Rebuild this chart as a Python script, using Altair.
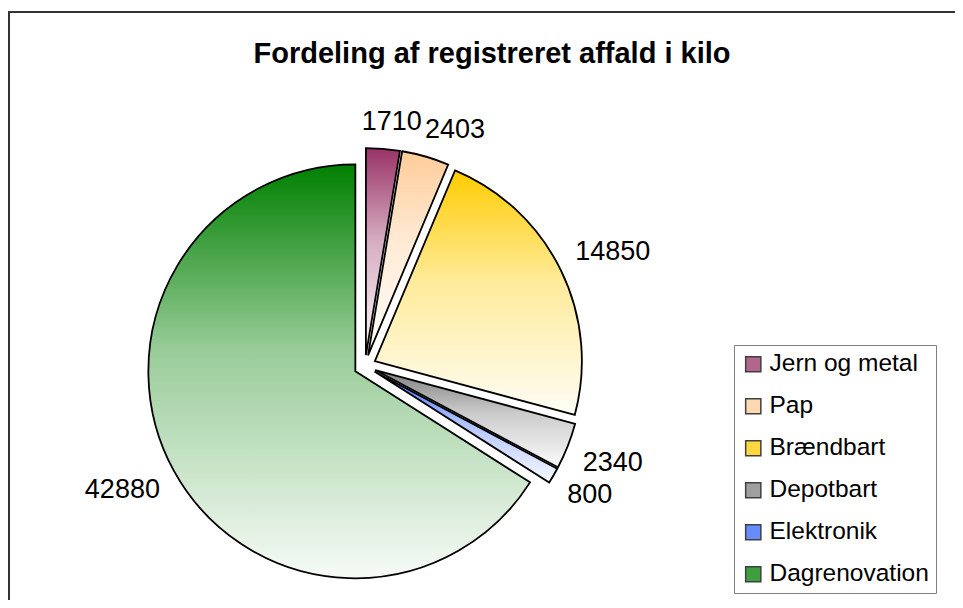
import altair as alt
import pandas as pd

categories = ["Jern og metal", "Pap", "Brændbart", "Depotbart", "Elektronik", "Dagrenovation"]
values = [1710, 2403, 14850, 2340, 800, 42880]
colors = ["#993366", "#FFCC99", "#FFCC00", "#808080", "#3366FF", "#008000"]
title_text = "Fordeling af registreret affald i kilo"

CX, CY, R, EXPLODE = 357, 358, 207, 11
GAP, HALF_CHAR, HALF_H = 16, 7.5, 11
W, H = 947, 592

df = pd.DataFrame({"cat": categories, "val": values, "idx": list(range(len(categories)))})

base = (
    alt.Chart(df)
    .transform_joinaggregate(total="sum(val)")
    .transform_window(cum="sum(val)", sort=[alt.SortField("idx")], frame=[None, 0])
    .transform_calculate(t1="2*PI*datum.cum/datum.total")
    .transform_calculate(t0="2*PI*(datum.cum-datum.val)/datum.total")
    .transform_calculate(mid="(datum.t0+datum.t1)/2")
    .transform_calculate(cx=f"{CX}+{EXPLODE}*sin(datum.mid)")
    .transform_calculate(cy=f"{CY}-{EXPLODE}*cos(datum.mid)")
)

enc = dict(
    theta=alt.Theta("t0:Q", scale=None, stack=None),
    theta2="t1:Q",
    x=alt.X("cx:Q", scale=None),
    y=alt.Y("cy:Q", scale=None),
)

fills = base.mark_arc(outerRadius=R).encode(
    color=alt.Color(
        "cat:N",
        scale=alt.Scale(domain=categories, range=colors),
        legend=alt.Legend(
            title=None,
            orient="none",
            legendX=726,
            legendY=337,
            strokeColor="#808080",
            fillColor="white",
            padding=7,
            labelFont="Liberation Sans",
            labelFontSize=24.5,
            labelColor="black",
            labelLimit=0,
            symbolType="square",
            symbolSize=230,
            symbolStrokeColor="black",
            symbolStrokeWidth=1.5,
            symbolOpacity=0.75,
            rowPadding=17,
            labelOffset=4,
            cornerRadius=0,
        ),
    ),
    **enc,
)

overlay = base.mark_arc(
    outerRadius=R,
    stroke="black",
    strokeWidth=1.8,
    fill=alt.LinearGradient(
        gradient="linear",
        x1=0, y1=0, x2=0, y2=1,
        stops=[
            alt.GradientStop(color="rgba(255,255,255,0)", offset=0),
            alt.GradientStop(color="rgba(255,255,255,0.6)", offset=0.45),
            alt.GradientStop(color="rgba(255,255,255,0.97)", offset=1),
        ],
    ),
).encode(**enc)

labels = (
    base.transform_calculate(lab="toString(datum.val)")
    .transform_calculate(s="sin(datum.mid)", c="cos(datum.mid)")
    .transform_calculate(
        lx=f"datum.cx+({R}+{GAP})*datum.s+(datum.s>0?1:-1)*min(1,3*abs(datum.s))*length(datum.lab)*{HALF_CHAR}"
    )
    .transform_calculate(
        ly=f"datum.cy-({R}+{GAP})*datum.c-(datum.c>0?1:-1)*min(1,3*abs(datum.c))*{HALF_H}"
    )
    .mark_text(fontSize=27, font="Liberation Sans", color="black", align="center", baseline="middle")
    .encode(x=alt.X("lx:Q", scale=None), y=alt.Y("ly:Q", scale=None), text="lab:N")
)

one = pd.DataFrame({"t": [title_text]})
title = alt.Chart(one).mark_text(
    fontSize=29, fontWeight="bold", font="Liberation Sans", color="black",
    align="center", baseline="alphabetic"
).encode(x=alt.value(484), y=alt.value(55), text="t:N")

frame_top = alt.Chart(one).mark_rule(color="#333333", strokeWidth=2).encode(
    x=alt.value(0), x2=alt.value(W), y=alt.value(4)
)
frame_left = alt.Chart(one).mark_rule(color="#333333", strokeWidth=2).encode(
    x=alt.value(1), y=alt.value(4), y2=alt.value(H)
)

chart = (
    alt.layer(frame_top, frame_left, fills, overlay, labels, title)
    .properties(width=W, height=H, autosize="none", padding=0)
    .configure_view(stroke=None)
)

chart.save("out.html", embed_options={"renderer": "svg", "actions": False})
